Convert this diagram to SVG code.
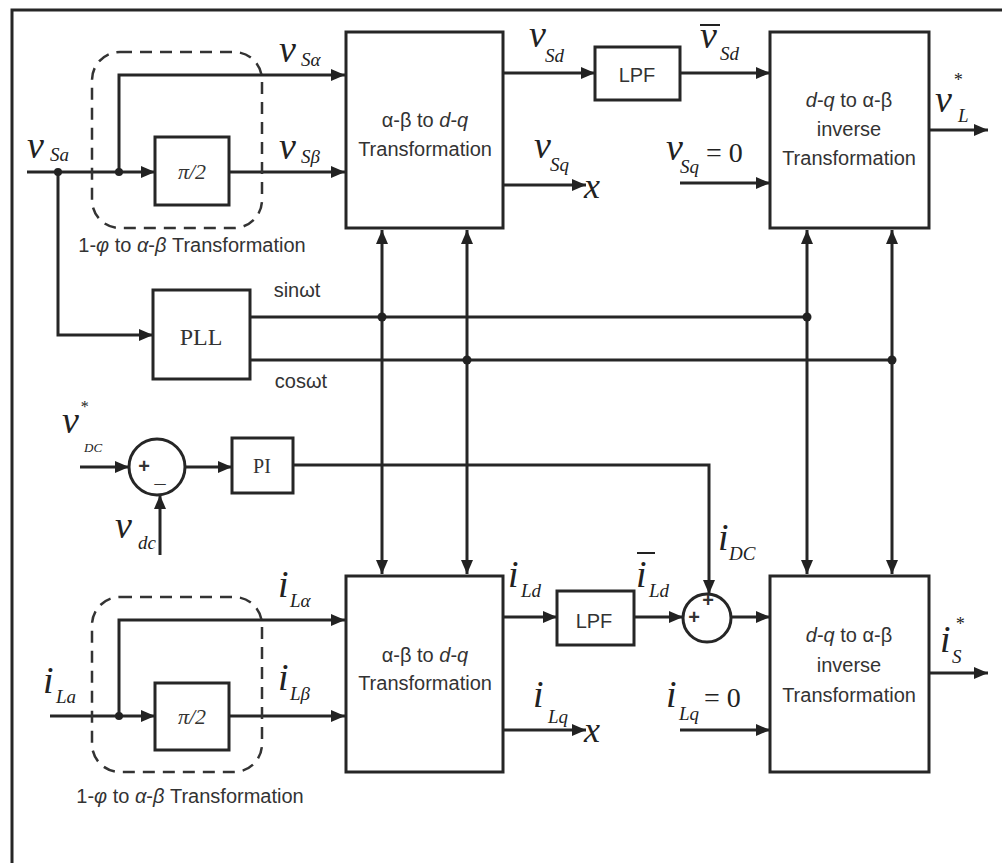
<svg xmlns="http://www.w3.org/2000/svg" width="1002" height="863" viewBox="0 0 1002 863">
<style>
.ln{fill:none;stroke:#262626;stroke-width:3}
.bx{fill:#fff;stroke:#262626;stroke-width:3}
.ds{fill:none;stroke:#333;stroke-width:2.5;stroke-dasharray:12 8}
.dot{fill:#222}
.m{font-family:"Liberation Serif",serif;font-style:italic;fill:#222}
.mv{font-size:38px}
.ms{font-size:19px}
.sf{font-family:"Liberation Sans",Arial,sans-serif;fill:#333;font-size:20px;text-anchor:middle}
.sr{font-family:"Liberation Serif",serif;fill:#333;text-anchor:middle}
.up{font-family:"Liberation Serif",serif;fill:#222;font-size:28px}
</style>
<defs>
<marker id="ah" viewBox="0 0 14 12" refX="14" refY="6" markerWidth="14" markerHeight="12" markerUnits="userSpaceOnUse" orient="auto-start-reverse">
<path d="M0,0 L14,6 L0,12 z" fill="#222"/>
</marker>
</defs>
<rect width="1002" height="863" fill="#fff"/>
<path class="ln" d="M12,863 V10 H1002"/>

<g id="connectors">
<path class="ln" d="M27,172 H155" marker-end="url(#ah)"/>
<path class="ln" d="M119,172 V75 H345" marker-end="url(#ah)"/>
<path class="ln" d="M229,172 H345" marker-end="url(#ah)"/>
<path class="ln" d="M58,172 V335 H153" marker-end="url(#ah)"/>
<path class="ln" d="M250,317 H807"/>
<path class="ln" d="M250,360 H892"/>
<path class="ln" d="M382,230 V574" marker-start="url(#ah)" marker-end="url(#ah)"/>
<path class="ln" d="M467,230 V574" marker-start="url(#ah)" marker-end="url(#ah)"/>
<path class="ln" d="M807,230 V574" marker-start="url(#ah)" marker-end="url(#ah)"/>
<path class="ln" d="M892,230 V574" marker-start="url(#ah)" marker-end="url(#ah)"/>
<path class="ln" d="M503,73 H595" marker-end="url(#ah)"/>
<path class="ln" d="M503,185 H586" marker-end="url(#ah)"/>
<path class="ln" d="M680,73 H770" marker-end="url(#ah)"/>
<path class="ln" d="M680,183 H770" marker-end="url(#ah)"/>
<path class="ln" d="M929,130 H988" marker-end="url(#ah)"/>
<path class="ln" d="M80,467 H129" marker-end="url(#ah)"/>
<path class="ln" d="M185,467 H232" marker-end="url(#ah)"/>
<path class="ln" d="M160,555 V495" marker-end="url(#ah)"/>
<path class="ln" d="M293,465 H709 V594" marker-end="url(#ah)"/>
<path class="ln" d="M50,716 H155" marker-end="url(#ah)"/>
<path class="ln" d="M119,716 V620 H345" marker-end="url(#ah)"/>
<path class="ln" d="M229,716 H345" marker-end="url(#ah)"/>
<path class="ln" d="M503,617 H557" marker-end="url(#ah)"/>
<path class="ln" d="M503,730 H586" marker-end="url(#ah)"/>
<path class="ln" d="M634,617 H683" marker-end="url(#ah)"/>
<path class="ln" d="M731,617 H770" marker-end="url(#ah)"/>
<path class="ln" d="M680,730 H770" marker-end="url(#ah)"/>
<path class="ln" d="M929,673 H988" marker-end="url(#ah)"/>
<circle class="dot" cx="58" cy="172" r="4"/>
<circle class="dot" cx="119" cy="172" r="4"/>
<circle class="dot" cx="119" cy="716" r="4"/>
<circle class="dot" cx="382" cy="317" r="4.5"/>
<circle class="dot" cx="467" cy="360" r="4.5"/>
<circle class="dot" cx="807" cy="317" r="4.5"/>
<circle class="dot" cx="892" cy="360" r="4.5"/>
</g>

<g id="dashed-top">
<rect class="ds" x="92" y="52" width="170" height="176" rx="28"/>
<text class="sf" x="192" y="252">1-<tspan font-style="italic">φ</tspan> to <tspan font-style="italic">α</tspan>-<tspan font-style="italic">β</tspan> Transformation</text>
</g>
<g id="phase-top">
<rect class="bx" x="155" y="137" width="74" height="68"/>
<text class="sr" x="192" y="179" font-size="22" font-style="italic">π/2</text>
</g>
<g id="abdq-top">
<rect class="bx" x="346" y="32" width="157" height="196"/>
<text class="sf" x="425" y="127">α-β to <tspan font-style="italic">d</tspan>-<tspan font-style="italic">q</tspan></text>
<text class="sf" x="425" y="156">Transformation</text>
</g>
<g id="lpf-top">
<rect class="bx" x="595" y="47" width="85" height="53"/>
<text class="sf" x="637" y="82" font-size="25">LPF</text>
</g>
<g id="inv-top">
<rect class="bx" x="770" y="32" width="159" height="196"/>
<text class="sf" x="849" y="107"><tspan font-style="italic">d</tspan>-<tspan font-style="italic">q</tspan> to α-β</text>
<text class="sf" x="849" y="136">inverse</text>
<text class="sf" x="849" y="165">Transformation</text>
</g>
<g id="pll">
<rect class="bx" x="153" y="290" width="97" height="89"/>
<text class="sr" x="201" y="345" font-size="24">PLL</text>
</g>
<g id="sum-dc">
<circle class="bx" cx="157" cy="467" r="28"/>
<text class="sf" x="144" y="473" font-size="18" font-weight="bold">+</text>
<text class="sf" x="160" y="482" font-size="18" font-weight="bold">_</text>
</g>
<g id="pi">
<rect class="bx" x="232" y="438" width="61" height="55"/>
<text class="sr" x="262" y="473" font-size="20">PI</text>
</g>
<g id="dashed-bottom">
<rect class="ds" x="92" y="597" width="170" height="175" rx="28"/>
<text class="sf" x="190" y="803">1-<tspan font-style="italic">φ</tspan> to <tspan font-style="italic">α</tspan>-<tspan font-style="italic">β</tspan> Transformation</text>
</g>
<g id="phase-bottom">
<rect class="bx" x="155" y="683" width="74" height="67"/>
<text class="sr" x="192" y="724" font-size="22" font-style="italic">π/2</text>
</g>
<g id="abdq-bottom">
<rect class="bx" x="346" y="576" width="157" height="196"/>
<text class="sf" x="425" y="662">α-β to <tspan font-style="italic">d</tspan>-<tspan font-style="italic">q</tspan></text>
<text class="sf" x="425" y="690">Transformation</text>
</g>
<g id="lpf-bottom">
<rect class="bx" x="557" y="591" width="77" height="54"/>
<text class="sf" x="594" y="628" font-size="25">LPF</text>
</g>
<g id="sum-i">
<circle class="bx" cx="707" cy="618" r="24"/>
<text class="sf" x="694" y="624" font-size="17" font-weight="bold">+</text>
<text class="sf" x="708" y="607" font-size="17" font-weight="bold">+</text>
</g>
<g id="inv-bottom">
<rect class="bx" x="770" y="576" width="159" height="196"/>
<text class="sf" x="849" y="642"><tspan font-style="italic">d</tspan>-<tspan font-style="italic">q</tspan> to α-β</text>
<text class="sf" x="849" y="672">inverse</text>
<text class="sf" x="849" y="702">Transformation</text>
</g>

<g id="labels">
<text class="m mv" x="27" y="158">v</text><text class="m ms" x="50" y="161">Sa</text>
<text class="m mv" x="279" y="62">v</text><text class="m ms" x="301" y="66">Sα</text>
<text class="m mv" x="279" y="159">v</text><text class="m ms" x="301" y="163">Sβ</text>
<text class="m mv" x="529" y="47">v</text><text class="m ms" x="545" y="62">Sd</text>
<text class="m mv" x="534" y="158">v</text><text class="m ms" x="550" y="171">Sq</text>
<text class="m" x="584" y="198" font-size="36">x</text>
<text class="m mv" x="700" y="48">v</text><path d="M700,25 H720" stroke="#222" stroke-width="2"/><text class="m ms" x="720" y="60">Sd</text>
<text class="m mv" x="666" y="160">v</text><text class="m ms" x="680" y="173">Sq</text><text class="up" x="706" y="162">= 0</text>
<text class="m mv" x="935" y="112">v</text><text class="m" x="953" y="86" font-size="18">*</text><text class="m ms" x="958" y="122">L</text>
<text class="sf" x="297" y="297">sinωt</text>
<text class="sf" x="301" y="388">cosωt</text>
<text class="m mv" x="62" y="433">v</text><text class="m" x="80" y="412" font-size="16">*</text><text class="m" x="84" y="452" font-size="13">DC</text>
<text class="m mv" x="115" y="538">v</text><text class="m ms" x="138" y="549">dc</text>
<text class="m mv" x="278" y="597">i</text><text class="m ms" x="290" y="607">Lα</text>
<text class="m mv" x="43" y="693">i</text><text class="m ms" x="56" y="703">La</text>
<text class="m mv" x="278" y="690">i</text><text class="m ms" x="290" y="700">Lβ</text>
<text class="m mv" x="508" y="587">i</text><text class="m ms" x="521" y="597">Ld</text>
<text class="m mv" x="636" y="587">i</text><path d="M637,553 H655" stroke="#222" stroke-width="2"/><text class="m ms" x="649" y="597">Ld</text>
<text class="m mv" x="533" y="707">i</text><text class="m ms" x="548" y="723">Lq</text>
<text class="m" x="584" y="742" font-size="36">x</text>
<text class="m mv" x="718" y="550">i</text><text class="m ms" x="729" y="560">DC</text>
<text class="m mv" x="666" y="707">i</text><text class="m ms" x="679" y="720">Lq</text><text class="up" x="704" y="707">= 0</text>
<text class="m mv" x="940" y="652">i</text><text class="m" x="955" y="630" font-size="18">*</text><text class="m ms" x="952" y="663">S</text>
</g>
</svg>
